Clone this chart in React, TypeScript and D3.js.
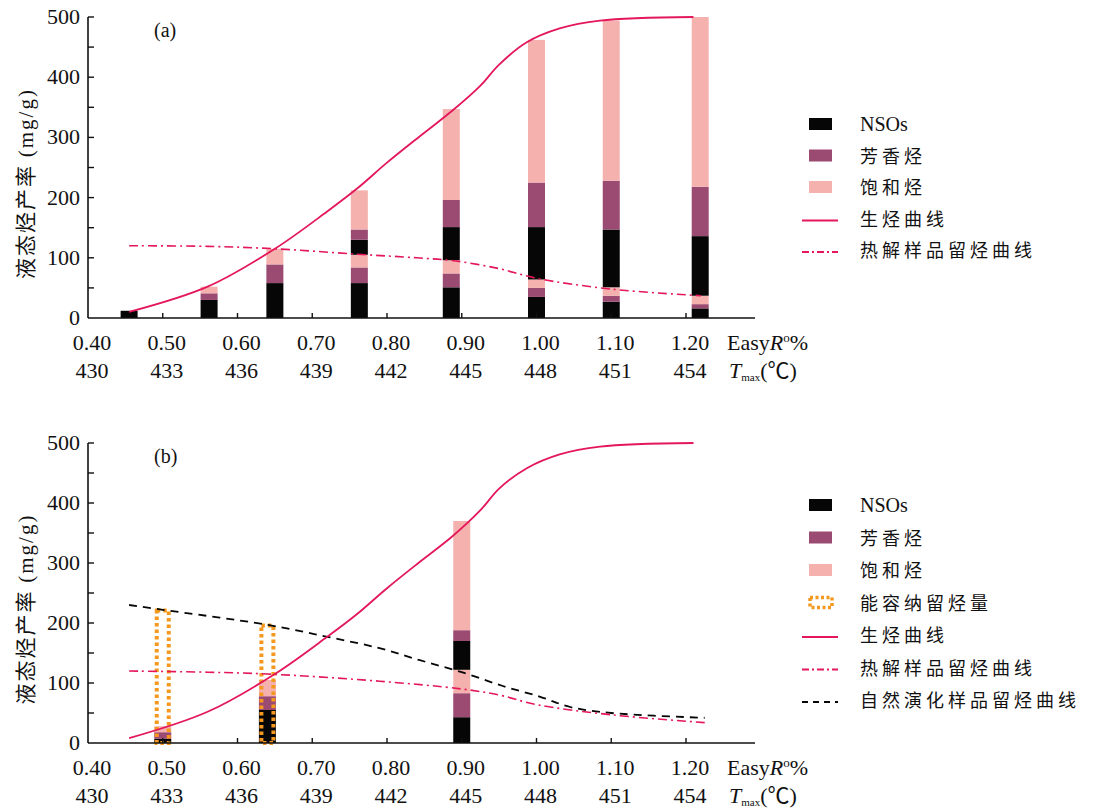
import React from "react";
import * as d3 from "d3";

// ---------- axis ticks ----------
const easyRoTicks = [0.4, 0.5, 0.6, 0.7, 0.8, 0.9, 1.0, 1.1, 1.2];
const tmaxTicks = ["430", "433", "436", "439", "442", "445", "448", "451", "454"];
const yMajor = [0, 100, 200, 300, 400, 500];
const yMinor = [50, 150, 250, 350, 450];

// ---------- panel (a) bars ----------
const barRoA = [0.455, 0.562, 0.65, 0.763, 0.886, 1.0, 1.1, 1.219];
const retNSOsA = [12, 30, 58, 58, 51, 35, 27, 16];
const retAromA = [0, 11, 31, 26, 23, 15, 10, 7];
const retSatA = [0, 11, 26, 21, 22, 14, 14, 14];
const expNSOsA = [0, 0, 0, 25, 55, 87, 96, 99];
const expAromA = [0, 0, 0, 17, 45, 74, 81, 82];
const expSatA = [0, 0, 0, 65, 151, 237, 266, 282];

// ---------- panel (b) bars ----------
const barRoB = [0.5, 0.64, 0.9];
const retNSOsB = [7, 55, 43];
const retAromB = [11, 23, 40];
const retSatB = [10, 27, 39];
const expNSOsB = [0, 0, 48];
const expAromB = [0, 0, 18];
const expSatB = [0, 0, 182];
const capacityB = [221, 196, 0];

// ---------- curves ----------
const genRo = [0.455, 0.56, 0.65, 0.72, 0.76, 0.8, 0.844, 0.888, 0.925, 0.95, 0.987, 1.031, 1.085, 1.21];
const genVal = [10, 52, 115, 177, 215, 258, 302, 345, 386, 421, 458, 481, 494, 500];
const genValB = [8, 52, 115, 177, 215, 258, 302, 345, 388, 424, 458, 481, 494, 500];

const pyroRoA = [0.455, 0.56, 0.65, 0.76, 0.84, 0.89, 0.95, 1.0, 1.1, 1.22];
const pyroValA = [120, 119, 115, 106, 100, 95, 82, 66, 48, 37];
const pyroRoB = [0.455, 0.56, 0.64, 0.79, 0.9, 0.95, 1.0, 1.1, 1.225];
const pyroValB = [120, 118, 115, 103, 90, 80, 64, 47, 34];
const natRoB = [0.455, 0.5, 0.64, 0.72, 0.79, 0.844, 0.9, 0.955, 1.005, 1.045, 1.1, 1.225];
const natValB = [230, 222, 197, 177, 158, 138, 118, 95, 77, 60, 50, 42];

const legendA = ["NSOs", "芳香烃", "饱和烃", "生烃曲线", "热解样品留烃曲线"];
const legendB = ["NSOs", "芳香烃", "饱和烃", "能容纳留烃量", "生烃曲线", "热解样品留烃曲线", "自然演化样品留烃曲线"];

// ---------- styles ----------
const BLACK = "#060606";
const PURPLE = "#9b4a72";
const PINK = "#f4b1ae";
const RED = "#e3175a";
const ORANGE = "#f5981f";
const FONT = "'Liberation Serif', 'Times New Roman', 'Noto Sans CJK SC', serif";
const CJK = "'Noto Sans CJK SC', 'Liberation Serif', serif";

const x = d3.scaleLinear().domain([0.4, 1.2]).range([88, 686]);
const BAR_W = 17;

type PanelProps = {
  top: number;
  bottom: number;
  tag: string;
  bars: { ro: number[]; segs: number[][]; cap?: number[] };
  curves: { ro: number[]; val: number[]; color: string; dash?: string; width: number }[];
  legend: string[];
  legendTop: number;
  legendStep: number;
};

function Panel({ top, bottom, tag, bars, curves, legend, legendTop, legendStep }: PanelProps) {
  const y = d3.scaleLinear().domain([0, 500]).range([bottom, top]);
  const segColors = [BLACK, PURPLE, PINK, BLACK, PURPLE, PINK];
  const axisRight = 755;

  const barEls: React.ReactNode[] = [];
  bars.ro.forEach((ro, i) => {
    let cum = 0;
    bars.segs.forEach((seg, k) => {
      const v = seg[i];
      if (v > 0) {
        barEls.push(
          <rect
            key={`b${i}-${k}`}
            x={x(ro) - BAR_W / 2}
            y={y(cum + v)}
            width={BAR_W}
            height={y(cum) - y(cum + v)}
            fill={segColors[k]}
          />
        );
      }
      cum += v;
    });
  });

  const capEls: React.ReactNode[] = [];
  if (bars.cap) {
    bars.ro.forEach((ro, i) => {
      const c = bars.cap![i];
      if (c > 0) {
        capEls.push(
          <rect
            key={`c${i}`}
            x={x(ro) - BAR_W / 2 + 2.5}
            y={y(c)}
            width={BAR_W - 5}
            height={y(0) - y(c)}
            fill="none"
            stroke={ORANGE}
            strokeWidth={4}
            strokeDasharray="3.5,3"
          />
        );
      }
    });
  }

  const lineGen = d3
    .line<[number, number]>()
    .x((d) => x(d[0]))
    .y((d) => y(d[1]))
    .curve(d3.curveCatmullRom.alpha(0.5));

  const row1 = bottom + 32;
  const row2 = bottom + 60;

  const legEls = legend.map((label, i) => {
    const cy = legendTop + i * legendStep;
    let sw: React.ReactNode = null;
    if (label === "NSOs") sw = <rect x={809} y={cy - 6} width={23} height={12} fill={BLACK} />;
    else if (label === "芳香烃") sw = <rect x={809} y={cy - 6} width={23} height={12} fill={PURPLE} />;
    else if (label === "饱和烃") sw = <rect x={809} y={cy - 6} width={23} height={12} fill={PINK} />;
    else if (label === "能容纳留烃量")
      sw = (
        <rect x={810} y={cy - 5} width={22} height={10} fill="none" stroke={ORANGE} strokeWidth={3.5} strokeDasharray="3,2.5" />
      );
    else if (label === "生烃曲线") sw = <line x1={802} x2={838} y1={cy + 2} y2={cy + 2} stroke={RED} strokeWidth={2} />;
    else if (label === "热解样品留烃曲线")
      sw = <line x1={802} x2={838} y1={cy + 2} y2={cy + 2} stroke={RED} strokeWidth={2} strokeDasharray="7,3,2,3" />;
    else sw = <line x1={802} x2={838} y1={cy + 2} y2={cy + 2} stroke={BLACK} strokeWidth={2} strokeDasharray="6,5" />;
    const isLatin = label === "NSOs";
    return (
      <g key={label}>
        {sw}
        <text
          x={860}
          y={cy + 7}
          fontFamily={isLatin ? FONT : CJK}
          fontSize={isLatin ? 20 : 18}
          letterSpacing={isLatin ? 0 : 4}
          fill="#111"
        >
          {label}
        </text>
      </g>
    );
  });

  return (
    <g>
      {barEls}
      {capEls}
      {curves.map((c, i) => (
        <path
          key={`l${i}`}
          d={lineGen(c.ro.map((r, j) => [r, c.val[j]] as [number, number])) || ""}
          fill="none"
          stroke={c.color}
          strokeWidth={c.width}
          strokeDasharray={c.dash}
        />
      ))}
      <line x1={88} x2={88} y1={top} y2={bottom} stroke="#111" strokeWidth={1.6} />
      <line x1={88} x2={axisRight} y1={bottom} y2={bottom} stroke="#111" strokeWidth={1.6} />
      {yMajor.map((v) => (
        <g key={`ym${v}`}>
          {v > 0 && <line x1={88} x2={94} y1={y(v)} y2={y(v)} stroke="#111" strokeWidth={1.4} />}
          <text x={80} y={y(v) + 7} textAnchor="end" fontFamily={FONT} fontSize={22} fill="#111">
            {v}
          </text>
        </g>
      ))}
      {yMinor.map((v) => (
        <line key={`yn${v}`} x1={88} x2={94} y1={y(v)} y2={y(v)} stroke="#111" strokeWidth={1.4} />
      ))}
      {easyRoTicks.map((t, i) => (
        <g key={`xt${i}`}>
          {i > 0 && <line x1={x(t)} x2={x(t)} y1={bottom} y2={bottom - 5} stroke="#111" strokeWidth={1.4} />}
          <text x={x(t) + 4} y={row1} textAnchor="middle" fontFamily={FONT} fontSize={22} fill="#111">
            {t.toFixed(2)}
          </text>
          <text x={x(t) + 4} y={row2} textAnchor="middle" fontFamily={FONT} fontSize={22} fill="#111">
            {tmaxTicks[i]}
          </text>
        </g>
      ))}
      <text x={727} y={row1} fontFamily={FONT} fontSize={22} fill="#111">
        Easy<tspan fontStyle="italic">R</tspan>
        <tspan dy={-8} fontSize={13}>o</tspan>
        <tspan dy={8}>%</tspan>
      </text>
      <text x={729} y={row2} fontFamily={FONT} fontSize={22} fill="#111">
        <tspan fontStyle="italic">T</tspan>
        <tspan dy={3} fontSize={11}>max</tspan>
        <tspan dy={-3}>(℃)</tspan>
      </text>
      <text
        transform={`translate(33, ${(top + bottom) / 2 + 16}) rotate(-90)`}
        textAnchor="middle"
        fontFamily={CJK}
        fontSize={21}
        letterSpacing={2}
        fill="#111"
      >
        液态烃产率 <tspan fontFamily={FONT}>(mg/g)</tspan>
      </text>
      <text x={154} y={top + 20} fontFamily={FONT} fontSize={20} fill="#111">
        {tag}
      </text>
      {legEls}
    </g>
  );
}

export default function App() {
  return (
    <svg width={1095} height={810} style={{ position: "absolute", left: 0, top: 0, background: "#fff" }}>
      <rect width={1095} height={810} fill="#fff" />
      <Panel
        top={17}
        bottom={318}
        tag="(a)"
        bars={{ ro: barRoA, segs: [retNSOsA, retAromA, retSatA, expNSOsA, expAromA, expSatA] }}
        curves={[
          { ro: genRo, val: genVal, color: RED, width: 1.8 },
          { ro: pyroRoA, val: pyroValA, color: RED, width: 1.6, dash: "9,4,2,4" },
        ]}
        legend={legendA}
        legendTop={124}
        legendStep={31.5}
      />
      <Panel
        top={443}
        bottom={743}
        tag="(b)"
        bars={{ ro: barRoB, segs: [retNSOsB, retAromB, retSatB, expNSOsB, expAromB, expSatB], cap: capacityB }}
        curves={[
          { ro: natRoB, val: natValB, color: BLACK, width: 1.8, dash: "8,6" },
          { ro: genRo, val: genValB, color: RED, width: 1.8 },
          { ro: pyroRoB, val: pyroValB, color: RED, width: 1.6, dash: "9,4,2,4" },
        ]}
        legend={legendB}
        legendTop={505}
        legendStep={32.5}
      />
    </svg>
  );
}
